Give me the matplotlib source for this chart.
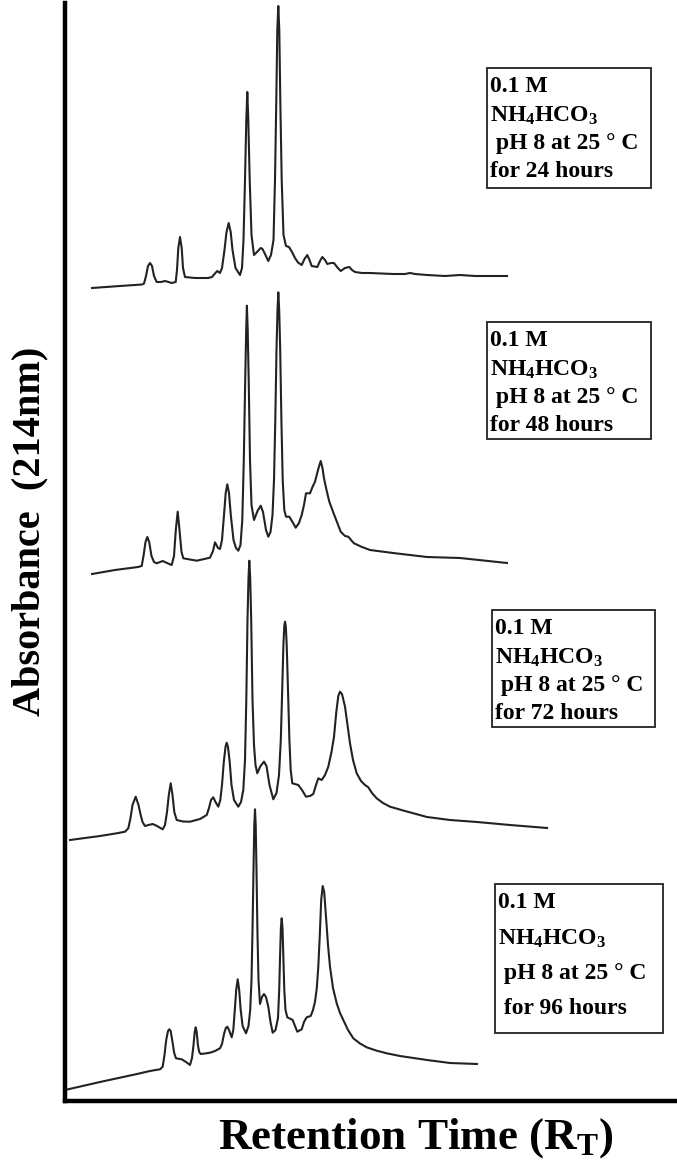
import matplotlib
matplotlib.use('Agg')
import matplotlib.pyplot as plt
from matplotlib.patches import Rectangle

plt.rcParams['font.family'] = ['Liberation Serif', 'DejaVu Serif']
plt.rcParams['font.weight'] = 'bold'
plt.rcParams['mathtext.fontset'] = 'custom'
plt.rcParams['mathtext.rm'] = 'Liberation Serif:bold'
plt.rcParams['mathtext.default'] = 'rm'

# traces: retention (x) and signal (y, screen units, down = low)
rt_24 = [92, 120, 142, 144, 146, 148, 150, 152, 154, 156.7, 161, 165, 168.5, 171.7, 175.7, 177,
         178.3, 180, 181.7, 183, 185, 195, 208, 212, 214.5, 217.3, 220, 222, 224.5, 226.5, 228.7,
         230.7, 232.5, 235.5, 240, 242, 243.5, 245, 246.3, 247.3, 248.3, 249.7, 251.5, 254, 257,
         260.7, 262.5, 265, 268.3, 271, 273.5, 275, 276.3, 277.3, 278.3, 279.3, 280.3, 281.7,
         283.5, 286, 289, 292, 295, 298, 301.7, 304.5, 307.3, 309.5, 311.7, 317.3, 320, 322.3,
         325, 327.3, 331, 334, 337, 340.7, 345, 349.3, 352, 355, 362, 370, 393, 405, 410, 415,
         427, 445, 460, 475, 490, 507]
sig_24 = [288, 286, 284.5, 283.5, 276, 266, 263, 266, 276, 282, 282, 281, 282, 283, 282, 270,
          248, 237, 248, 268, 277, 278, 278, 277, 274, 271, 273, 268, 250, 232, 223,
          232, 250, 268, 275, 268, 240, 180, 120, 92, 120, 180, 235, 255, 252,
          248, 249, 254, 261, 255, 240, 180, 100, 30, 6, 30, 100, 180,
          235, 246, 247, 252, 258, 262.5, 265, 259, 255, 260, 266, 267, 261, 257,
          260, 264, 263, 263, 267, 271, 268, 267, 270, 272, 273, 273, 274, 274, 273, 274,
          275, 276, 275, 276, 276, 276]

rt_48 = [92, 115, 138, 141.7, 143.5, 145.5, 147.3, 149.2, 151.5, 154, 156.7, 162.7, 167, 171.7,
         174, 175.8, 177.7, 179.5, 181.5, 183.3, 196.7, 210, 213, 215, 218, 220, 222, 224, 225.7,
         227.3, 229, 230.8, 233.5, 236, 238.3, 240.5, 242.3, 243.8, 245.2, 246.2, 246.9, 247.7,
         248.7, 250, 251.5, 254, 257.5, 260.7, 263, 266, 268.3, 270.5, 272.5, 274, 275.3, 276.5,
         277.5, 278.3, 279.2, 280.2, 281.4, 282.7, 284.3, 286, 289.3, 292.5, 295.7, 299, 301.7,
         304, 306, 310, 312.5, 315, 318, 320.7, 322.5, 324, 326.5, 329.3, 334, 340.7, 345, 348.3,
         351, 354, 362, 370, 393, 427, 460, 507]
sig_48 = [574, 570, 567, 566, 556, 542, 537, 542, 556, 562, 563.3, 561, 563, 565,
          556, 530, 511.7, 530, 552, 558.3, 560.7, 557.7, 551, 542.3, 548, 549, 540, 515, 493,
          484.3, 493, 515, 540, 548, 550.7, 545, 520, 460, 380, 330, 305.7, 330,
          380, 460, 505, 520, 511, 505.7, 512, 530, 536.7, 532, 515, 480, 420, 350,
          310, 292.3, 310, 350, 420, 480, 510, 516.7, 516.7, 522, 527.7, 523, 515,
          505, 493.3, 493.3, 487, 481.7, 470, 461, 468, 478.3, 490, 501.7, 514.3, 531.7, 536, 536.7,
          540, 543.3, 547, 550, 553, 557, 558, 563]

rt_72 = [70, 100, 116.7, 125, 128.3, 130.5, 132.5, 135.7, 138.5, 140.7, 142.5, 145, 148.5, 152.7,
         157, 162.7, 165, 167, 168.8, 170.7, 172.5, 174.3, 176.7, 183, 190, 200, 206.7, 209, 211,
         213.3, 215.5, 218.3, 220.3, 222, 223.8, 225.5, 226.7, 228, 229.7, 231.5, 234, 238.3, 241,
         243.3, 245, 246.3, 247.5, 248.5, 249.3, 250.2, 251.2, 252.5, 254, 255.5, 257.3, 260.5,
         264, 266.5, 269.5, 273.3, 276.5, 279, 280.8, 282.2, 283.4, 284.3, 285, 285.8, 286.7, 288,
         289.4, 290.7, 292.3, 298.3, 302, 306, 310, 313.3, 316, 318.3, 321.7, 325, 328.3, 331.5,
         334, 336.3, 338.3, 340, 342, 345, 347.5, 350, 353, 356.7, 361, 365, 368.3, 372, 376.7,
         383, 390, 405, 427, 450, 477, 510, 547]
sig_72 = [840, 836, 833.3, 831.7, 828.3, 818, 805, 796.7, 805, 815, 822, 826, 825, 824,
          826, 829.3, 825, 812, 795, 783.3, 795, 812, 820, 821.5, 821.7, 819, 815, 808, 800,
          797.3, 802, 806.7, 800, 785, 762, 747, 742.7, 747, 762, 785, 800, 806.7, 802,
          790, 760, 700, 620, 578, 560.7, 578, 620, 700, 745, 765, 773.3, 766,
          761.7, 766, 785, 799.3, 793, 775, 740, 690, 645, 626, 621.7, 626, 645, 690,
          740, 770, 783.3, 785, 790, 796.7, 796, 794, 785, 778.3, 780, 775, 766.7, 752,
          736.7, 712, 696, 691.7, 694, 706.7, 725, 743.3, 760, 773.3, 781, 785, 787.3, 793, 798.3,
          803, 806.7, 811, 817, 820, 822, 825, 828]

rt_96 = [65, 100, 137, 140, 150, 160, 162.7, 164.5, 166.2, 168, 169.3, 170.7, 172.5, 174.2, 176,
         181.7, 186, 190, 192, 193.5, 194.7, 195.7, 196.7, 197.9, 199.2, 200.7, 205, 210, 215, 220,
         222, 224, 225.8, 227.3, 229, 231.7, 233.3, 234.8, 236.2, 237.7, 239.2, 240.7, 242.6, 246,
         248.5, 250.2, 251.5, 252.5, 253.5, 254.3, 255, 255.7, 256.5, 257.4, 258.5, 260, 262, 264,
         266, 268.3, 270.5, 272.7, 275.5, 278, 279.2, 280.1, 280.9, 281.7, 282.5, 283.3, 284.3,
         285.5, 287.3, 292.7, 295, 297.3, 301.7, 304, 306.7, 310.7, 313, 315, 316.8, 318.3, 319.8,
         321.2, 322.7, 324.2, 326, 328, 330, 333, 336.7, 340, 343.3, 348, 353.3, 360, 366.7, 376,
         386.7, 400, 427, 450, 477]
sig_96 = [1090, 1082, 1074, 1073.3, 1071, 1069.3, 1066.7, 1055, 1040, 1031, 1029.3, 1031, 1042, 1053, 1058.3,
          1059.3, 1062, 1065, 1058, 1045, 1032, 1027.3, 1032, 1045, 1052, 1054, 1053.5, 1052.7, 1051, 1048.3,
          1044, 1034, 1028, 1026.7, 1030, 1037.3, 1030, 1010, 990, 979.3, 990, 1010, 1026, 1033.3,
          1026, 1010, 980, 930, 870, 825, 809.3, 825, 870, 930, 980, 1004, 997, 994,
          997, 1006.7, 1022, 1032.7, 1030, 1018, 990, 955, 928, 918.3, 928, 955, 990,
          1010, 1017.3, 1020, 1026, 1031.7, 1029.3, 1022, 1017.3, 1016, 1010, 1001.7, 988, 966.7, 935,
          900, 886, 892, 916.7, 945, 966.7, 988, 1003.3, 1013, 1020, 1030, 1038.3, 1043.5, 1047.3, 1050.5,
          1053.3, 1056, 1060, 1063, 1064]

traces = [(rt_24, sig_24), (rt_48, sig_48), (rt_72, sig_72), (rt_96, sig_96)]

hours = ['24', '48', '72', '96']
# label boxes: x0, y0, x1, y1 in plot units
boxes = [(487, 68, 651, 188), (487, 322, 651, 439), (492, 610, 655, 727), (495, 884, 663, 1033)]
box_spacing = [1.43, 1.43, 1.43, 1.85]


def box_text(h, last_indent=''):
    return '\n'.join(['0.1 M', 'NH$_4$HCO$_3$', ' pH 8 at 25 \u00b0 C',
                      last_indent + 'for %s hours' % h])


W, H = 677, 1164
fig = plt.figure(figsize=(W / 100, H / 100), dpi=100)
# axes box spans the drawn spines (left spine at x=65, bottom spine at y=1101)
ax = fig.add_axes([65 / W, (H - 1101) / H, (W - 65) / W, (1101 - 3) / H])
ax.set_xlim(65, W)
ax.set_ylim(1101, 3)

for rt, sig in traces:
    ax.plot(rt, sig, color='#222222', lw=1.5, solid_joinstyle='round')

for i, (h, (x0, y0, x1, y1)) in enumerate(zip(hours, boxes)):
    ax.add_patch(Rectangle((x0, y0), x1 - x0, y1 - y0, fc='white', ec='#222222', lw=1.3, zorder=3))
    ax.text(x0 + 3, y0 + 8, box_text(h, ' ' if i == 3 else ''), fontsize=17, fontweight='bold',
            ha='left', va='top', linespacing=box_spacing[i], zorder=4)

for s in ['top', 'right']:
    ax.spines[s].set_visible(False)
for s in ['left', 'bottom']:
    ax.spines[s].set_linewidth(3.2)
    ax.spines[s].set_color('black')
ax.set_xticks([])
ax.set_yticks([])

fig.text(30 / W, 1 - 531 / H, 'Absorbance  (214nm)', rotation=90, fontsize=29,
         fontweight='bold', ha='center', va='center')
fig.text(416 / W, 1 - 1138 / H, 'Retention Time (R$_T$)', fontsize=32.5,
         fontweight='bold', ha='center', va='center')

fig.savefig('out.png', dpi=100)
